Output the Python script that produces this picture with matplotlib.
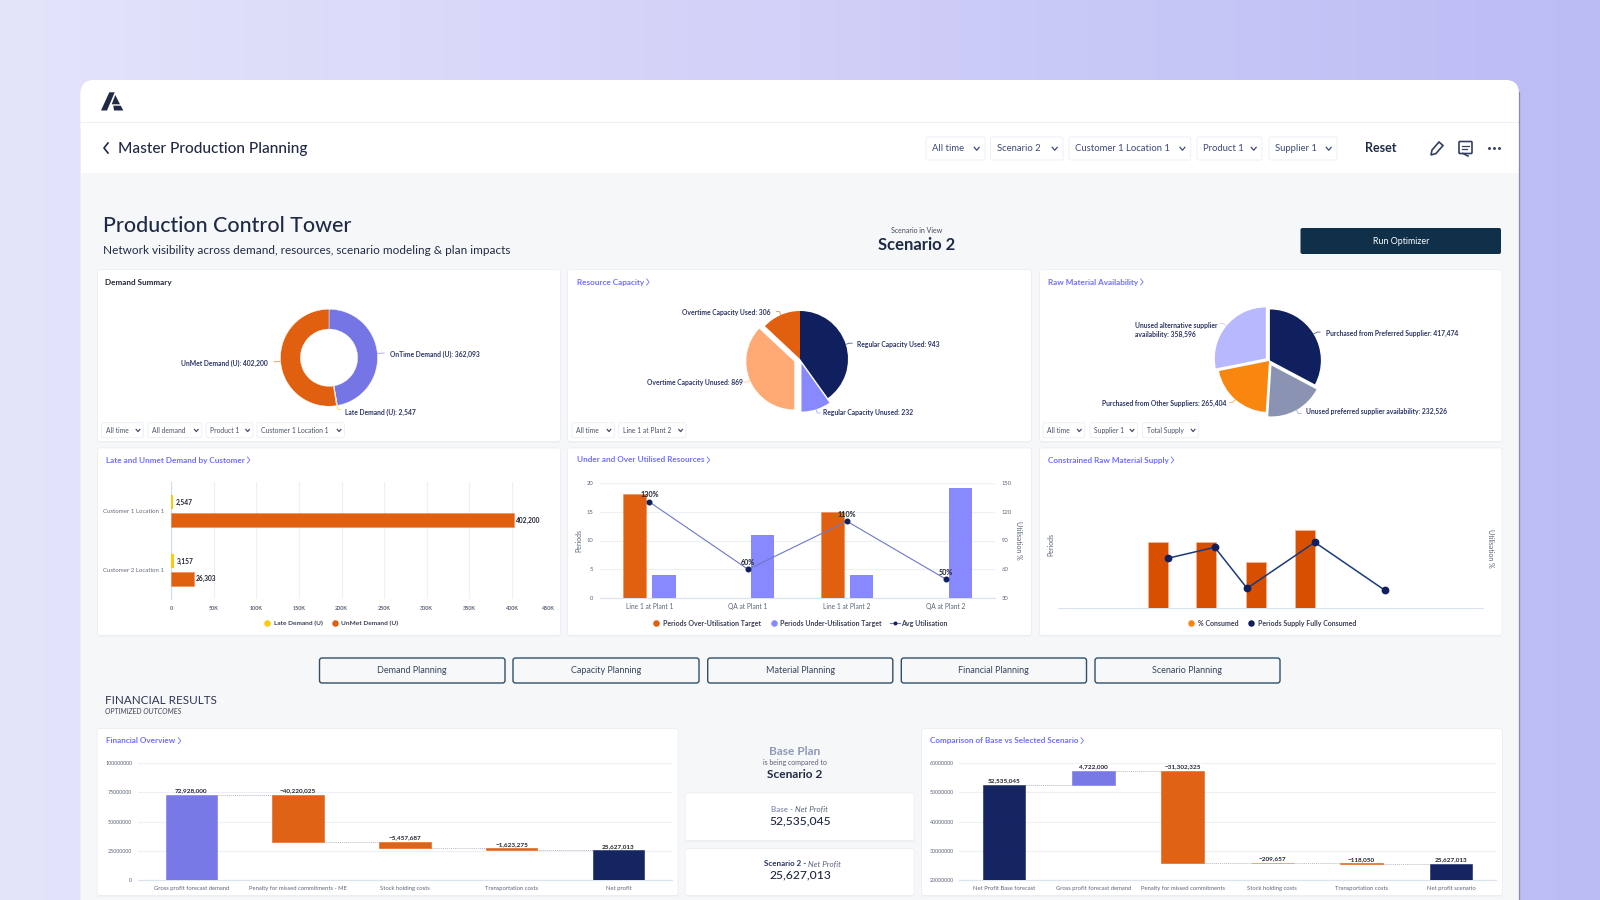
import numpy as np
import matplotlib
matplotlib.use("Agg")
import matplotlib.pyplot as plt
from matplotlib.patches import FancyBboxPatch, Polygon, Rectangle

plt.rcParams["font.family"] = ["Lato", "DejaVu Sans"]

W, H = 1600, 900

# -----------------------------
# Data
# -----------------------------
demand_labels = ["OnTime Demand (U)", "Late Demand (U)", "UnMet Demand (U)"]
demand_values = [362093, 2547, 402200]

capacity_labels = ["Regular Capacity Used", "Regular Capacity Unused",
                   "Overtime Capacity Unused", "Overtime Capacity Used"]
capacity_values = [943, 232, 869, 306]

material_labels = ["Purchased from Preferred Supplier", "Unused preferred supplier availability",
                   "Purchased from Other Suppliers", "Unused alternative supplier\navailability"]
material_values = [417474, 232526, 265404, 358596]

customers = ["Customer 1 Location 1", "Customer 2 Location 1"]
late_demand = [2547, 3157]
unmet_demand = [402200, 26303]
demand_ticks = [0, 50000, 100000, 150000, 200000, 250000, 300000, 350000, 400000, 450000]
demand_tick_labels = ["0", "50K", "100K", "150K", "200K", "250K", "300K", "350K", "400K", "450K"]

resources = ["Line 1 at Plant 1", "QA at Plant 1", "Line 1 at Plant 2", "QA at Plant 2"]
periods_over = [18, 0, 15, 0]
periods_under = [4, 11, 4, 19]
avg_utilisation = [130, 60, 110, 50]

supply_bar_x = [0, 0.98, 2, 3]
supply_bar_periods = [4, 4, 2.8, 4.7]
supply_line_x = [0.2, 1.16, 1.82, 3.2, 4.63]
supply_line_pct = [50, 61, 20, 66, 18]

overview_labels = ["Gross profit forecast demand", "Penalty for missed commitments - ME",
                   "Stock holding costs", "Transportation costs", "Net profit"]
overview_values = [72928000, -40220025, -5457687, -1623275, 25627013]
overview_ticks = [0, 25000000, 50000000, 75000000, 100000000]

compare_labels = ["Net Profit Base forecast", "Gross profit forecast demand",
                  "Penalty for missed commitments", "Stock holding costs",
                  "Transportation costs", "Net profit scenario"]
compare_values = [52535045, 4722000, -31302325, -209657, -118050, 25627013]
compare_ticks = [20000000, 30000000, 40000000, 50000000, 60000000]

# -----------------------------
# Colours
# -----------------------------
NAVY = "#10205f"
ORANGE = "#e06010"
DEEP_ORANGE = "#d84f00"
PERIWINKLE = "#7575e6"
LIGHT_BLUE = "#8888ff"
YELLOW = "#ffc90a"
INK = "#1f2a44"
LABEL = "#2c3566"
LINK = "#6f6fff"
GRID = "#eef0f5"
AXIS = "#dbe3f0"
TICK = "#5b6478"

fig = plt.figure(figsize=(16, 9), dpi=100)

# full figure axes in pixel coordinates for the page furniture
page = fig.add_axes([0, 0, 1, 1], zorder=0)
page.set_xlim(0, W)
page.set_ylim(H, 0)
page.axis("off")


def chart_axes(x0, y0, x1, y1):
    ax = fig.add_axes([x0 / W, 1 - y1 / H, (x1 - x0) / W, (y1 - y0) / H], zorder=2)
    ax.patch.set_alpha(0)
    return ax


def box(x0, y0, x1, y1, face="white", edge="none", lw=0.8, rad=2, z=1):
    p = FancyBboxPatch((x0, y0), x1 - x0, y1 - y0, boxstyle=f"round,pad=0,rounding_size={rad}",
                       fc=face, ec=edge, lw=lw, zorder=z)
    page.add_patch(p)


def chevron(x, y, size=2.2, color=LABEL):
    page.plot([x - size, x, x + size], [y - size * 0.6, y + size * 0.6, y - size * 0.6],
              color=color, lw=0.9, zorder=6)


def filter_box(x0, x1, y0, y1, label, size, color=LABEL):
    box(x0, y0, x1, y1, edge="#eef0f7", lw=0.7, z=3)
    page.text(x0 + (y1 - y0) * 0.28, (y0 + y1) / 2, label, fontsize=size, color=color,
              va="center", ha="left", zorder=6)
    chevron(x1 - (y1 - y0) * 0.36, (y0 + y1) / 2 + 0.3, size=(y1 - y0) * 0.08 + 0.6, color=color)


def card(x0, y0, x1, y1, title=None, tx=None, ty=None, color=LINK):
    box(x0 - 0.8, y0 - 0.8, x1 + 0.8, y1 + 1.5, face="#eceef3", rad=3, z=1)
    box(x0, y0, x1, y1, z=2)
    if title:
        t = page.text(tx, ty, title, fontsize=5.85, fontweight="bold", color=color,
                      va="center", zorder=6)
        if color == LINK:
            # the arrow sits just after the title text
            end = t.get_window_extent(fig.canvas.get_renderer()).x1
            page.plot([end + 2.5, end + 5, end + 2.5], [ty - 3, ty, ty + 3], color=color, lw=0.6, zorder=6)


def legend_dot(x, y, color):
    page.scatter([x], [y], s=22, color=color, lw=0, zorder=6)


def legend_text(x, y, label, size=5.0):
    page.text(x, y, label, fontsize=size, fontweight="bold", color="#3a3f55", va="center", zorder=6)


def pie_axes(cx, cy, r):
    side = 1.4 * r
    ax = chart_axes(cx - side, cy - side, cx + side, cy + side)
    return ax


def leaders(ax, wedges, colors):
    for w, c in zip(wedges, colors):
        a = np.deg2rad((w.theta1 + w.theta2) / 2)
        cx, cy = w.center
        r = w.r
        xs = [cx + r * 1.01 * np.cos(a), cx + r * 1.08 * np.cos(a),
              cx + r * 1.08 * np.cos(a) + 0.06 * np.sign(np.cos(a))]
        ys = [cy + r * 1.01 * np.sin(a), cy + r * 1.08 * np.sin(a), cy + r * 1.08 * np.sin(a)]
        ax.plot(xs, ys, color=c, lw=0.6, clip_on=False, alpha=0.7)


def pie_label(x, y, label, ha="left"):
    page.text(x, y, label, fontsize=4.85, fontweight="bold", color=LABEL, ha=ha, va="center",
              linespacing=1.25, zorder=6)


def waterfall(ax, labels, values, colors, tick_size=4.2):
    xs = np.arange(len(values))
    level = 0
    for i, (v, c) in enumerate(zip(values, colors)):
        last = i == len(values) - 1
        bottom = 0 if (i == 0 or last) else (level if v > 0 else level + v)
        height = abs(v)
        ax.bar(xs[i], height, width=0.48, bottom=bottom, color=c, edgecolor=c, lw=0.4, alpha=0.98, zorder=3)
        top = bottom + height
        ax.annotate(f"{v:,}".replace("-", "\u2212"), (xs[i], top), xytext=(0, 1), textcoords="offset points",
                    ha="center", va="bottom", fontsize=4.6, fontweight="bold", color="#20242e", zorder=5)
        level = v if i == 0 else level + v
        if not last:
            ax.plot([xs[i] + 0.24, xs[i + 1] - 0.24], [level, level], color="#b8bcc6",
                    lw=0.7, ls=(0, (1, 1)), zorder=2)
    ax.set_xlim(-0.5, len(values) - 0.5)
    ax.set_xticks(xs)
    ax.set_xticklabels(labels, fontsize=tick_size, color=TICK)
    ax.tick_params(length=0, pad=4)
    ax.grid(axis="y", color=GRID, lw=0.9)
    ax.set_axisbelow(True)
    for s in ["top", "left", "right"]:
        ax.spines[s].set_visible(False)
    ax.spines["bottom"].set_color(AXIS)


# -----------------------------
# Page background and window
# -----------------------------
grad = np.linspace(0, 1, 256)[None, :, None]
c0 = np.array([228, 228, 251]) / 255
c1 = np.array([188, 188, 245]) / 255
page.imshow(c0 + (c1 - c0) * grad, extent=(0, W, H, 0), aspect="auto", zorder=0)

page.add_patch(FancyBboxPatch((80.5, 80), 1438.5, 840, boxstyle="round,pad=0,rounding_size=14",
                              fc="#f6f7f9", ec="none", zorder=0.5))
page.add_patch(FancyBboxPatch((80.5, 80), 1438.5, 60, boxstyle="round,pad=0,rounding_size=14",
                              fc="white", ec="none", zorder=0.6))
page.add_patch(Rectangle((80.5, 110), 1438.5, 63, fc="white", ec="none", zorder=0.6))
page.plot([81, 1518], [122, 122], color="#eef0f4", lw=0.8, zorder=0.7)
page.plot([1519.2, 1519.2], [92, 900], color="#8b8ba0", lw=0.9, zorder=0.8)

# header
page.add_patch(Polygon([(101, 110.5), (109.3, 92.3), (114.7, 92.3), (107, 110.5)], fc=INK, ec="none", zorder=3))
page.add_patch(Polygon([(115.3, 95), (111.7, 104.3), (120, 104.3)], fc=INK, ec="none", zorder=3))
page.add_patch(Polygon([(113.3, 105.7), (120.7, 105.7), (123.3, 110.5), (114, 110.5)], fc=INK, ec="none", zorder=3))
page.plot([108, 104, 108], [143, 148, 153], color=INK, lw=1.2, zorder=3)
page.text(118, 149.3, "Master Production Planning", fontsize=11.05, fontweight="medium", color=INK,
          va="center", zorder=3)

top_filters = [(926, 985, "All time"), (990.5, 1063, "Scenario 2"), (1069, 1190.7, "Customer 1 Location 1"),
               (1197, 1262, "Product 1"), (1269, 1337, "Supplier 1")]
for x0, x1, name in top_filters:
    filter_box(x0, x1, 137, 160, name, 6.8, color="#3d4a78")

page.text(1381, 148.5, "Reset", fontsize=9, fontweight="bold", color=INK, ha="center", va="center", zorder=3)
page.add_patch(Polygon([(1431, 155), (1432, 150), (1439, 142), (1443, 145.5), (1436, 153.5)],
                       fc="none", ec="#33405f", lw=1.2, zorder=3))
box(1459, 141.5, 1472, 153.5, face="none", edge="#33405f", lw=1.2, rad=1, z=3)
page.plot([1463, 1468], [153.5, 156], color="#33405f", lw=1.2, zorder=3)
page.plot([1462, 1469], [145.5, 145.5], color="#33405f", lw=0.9, zorder=3)
page.plot([1462, 1467], [149, 149], color="#33405f", lw=0.9, zorder=3)
page.scatter([1489, 1494, 1499], [148, 148, 148], s=4.5, color="#33405f", lw=0, zorder=3)

page.text(103, 226, "Production Control Tower", fontsize=15.4, fontweight="medium", color=INK, va="center", zorder=3)
page.text(103, 250, "Network visibility across demand, resources, scenario modeling & plan impacts",
          fontsize=8.45, color=INK, va="center", zorder=3)
page.text(917, 230.5, "Scenario in View", fontsize=5, color="#444b5c", ha="center", va="center", zorder=3)
page.text(917, 245.5, "Scenario 2", fontsize=12, fontweight="bold", color=INK, ha="center", va="center", zorder=3)
box(1300.5, 228, 1501, 254, face="#0f3048", rad=2, z=3)
page.text(1401, 242, "Run Optimizer", fontsize=6.4, color="white", ha="center", va="center", zorder=4)

# cards
row1, row2 = (270, 441), (448.3, 635)
col1, col2, col3 = (98, 560), (568, 1031), (1040, 1501.6)
card(col1[0], row1[0], col1[1], row1[1], "Demand Summary", 105, 282, color="#222838")
card(col2[0], row1[0], col2[1], row1[1], "Resource Capacity", 577, 282)
card(col3[0], row1[0], col3[1], row1[1], "Raw Material Availability", 1048, 282)
card(col1[0], row2[0], col1[1], row2[1], "Late and Unmet Demand by Customer", 106, 460)
card(col2[0], row2[0], col2[1], row2[1], "Under and Over Utilised Resources", 577, 460)
card(col3[0], row2[0], col3[1], row2[1], "Constrained Raw Material Supply", 1048, 460)
card(97.5, 729, 677.7, 895, "Financial Overview", 106.5, 740.7)
card(922, 729, 1502, 895, "Comparison of Base vs Selected Scenario", 930, 740.7)

mini_filters = [(101.6, 143.4, "All time"), (148, 201.7, "All demand"), (206, 253, "Product 1"),
                (257, 344.5, "Customer 1 Location 1"),
                (572, 614.4, "All time"), (618.6, 686, "Line 1 at Plant 2"),
                (1043, 1084.7, "All time"), (1090, 1137.5, "Supplier 1"), (1142.5, 1198.5, "Total Supply")]
for x0, x1, name in mini_filters:
    filter_box(x0, x1, 422.7, 437.7, name, 4.9, color="#4a5068")

# -----------------------------
# Donut
# -----------------------------
ax = pie_axes(329, 357.7, 48.5)
demand_colors = [PERIWINKLE, YELLOW, ORANGE]
wedges, _ = ax.pie(demand_values, colors=demand_colors, startangle=90, counterclock=False, radius=1,
                   wedgeprops=dict(width=0.41, edgecolor="white", linewidth=0.3))
ax.set_xlim(-1.4, 1.4)
ax.set_ylim(-1.4, 1.4)
leaders(ax, wedges, demand_colors)
pie_label(390, 354.7, f"{demand_labels[0]}: {demand_values[0]:,}")
pie_label(345, 412.3, f"{demand_labels[1]}: {demand_values[1]:,}")
pie_label(268, 363.7, f"{demand_labels[2]}: {demand_values[2]:,}", ha="right")

# -----------------------------
# Resource capacity pie
# -----------------------------
ax = pie_axes(800, 359, 48)
capacity_colors = [NAVY, LIGHT_BLUE, "#ffaa75", ORANGE]
wedges, _ = ax.pie(capacity_values, colors=capacity_colors, startangle=90, counterclock=False, radius=1,
                   explode=[0.0, 0.1, 0.13, 0.0])
ax.set_xlim(-1.4, 1.4)
ax.set_ylim(-1.4, 1.4)
leaders(ax, wedges, capacity_colors)
pie_label(857, 345, f"{capacity_labels[0]}: {capacity_values[0]:,}")
pie_label(823, 412, f"{capacity_labels[1]}: {capacity_values[1]:,}")
pie_label(743, 382, f"{capacity_labels[2]}: {capacity_values[2]:,}", ha="right")
pie_label(770.5, 312, f"{capacity_labels[3]}: {capacity_values[3]:,}", ha="right")

# -----------------------------
# Raw material pie
# -----------------------------
ax = pie_axes(1269, 361, 51)
material_colors = [NAVY, "#8a94b2", "#f9860f", "#b8b8ff"]
wedges, _ = ax.pie(material_values, colors=material_colors, startangle=90, counterclock=False, radius=1,
                   explode=[0.02, 0.1, 0.0, 0.08])
ax.set_xlim(-1.4, 1.4)
ax.set_ylim(-1.4, 1.4)
leaders(ax, wedges, material_colors)
pie_label(1326, 333, f"{material_labels[0]}: {material_values[0]:,}")
pie_label(1305.5, 411.3, f"{material_labels[1]}: {material_values[1]:,}")
pie_label(1226, 403.7, f"{material_labels[2]}: {material_values[2]:,}", ha="right")
pie_label(1134.7, 330, f"{material_labels[3]}: {material_values[3]:,}")

# -----------------------------
# Late and unmet demand bars
# -----------------------------
ax = chart_axes(171.3, 482, 554.3, 599)
y = np.arange(len(customers))
ax.barh(y - 0.15, late_demand, height=0.24, color=YELLOW, zorder=3)
ax.barh(y + 0.15, unmet_demand, height=0.24, color=ORANGE, edgecolor="#f08a50", lw=0.4, zorder=3)
for yy, l, u in zip(y, late_demand, unmet_demand):
    ax.annotate(f"{l:,}", (l, yy - 0.15), xytext=(1.8, 0), textcoords="offset points", va="center",
                fontsize=4.8, fontweight="bold", color="#20242e")
    ax.annotate(f"{u:,}", (u, yy + 0.15), xytext=(1.8, 0), textcoords="offset points", va="center",
                fontsize=4.8, fontweight="bold", color="#20242e")
ax.set_xlim(0, 450000)
ax.set_ylim(1.5, -0.5)
ax.set_xticks(demand_ticks)
ax.set_xticklabels(demand_tick_labels, fontsize=3.9, color=TICK, fontweight="bold")
ax.get_xticklabels()[-1].set_ha("right")
ax.set_yticks(y)
ax.set_yticklabels(customers, fontsize=4.4, color="#666c7c")
ax.tick_params(length=0, pad=5)
ax.grid(axis="x", color=GRID, lw=0.9)
ax.set_axisbelow(True)
for s in ["top", "right", "bottom"]:
    ax.spines[s].set_visible(False)
ax.spines["left"].set_color("#cfdcee")
legend_dot(267, 623.3, YELLOW)
legend_text(274, 623.3, "Late Demand (U)", 4.65)
legend_dot(335, 623.3, ORANGE)
legend_text(341, 623.3, "UnMet Demand (U)", 4.65)

# -----------------------------
# Under and over utilised resources
# -----------------------------
ax = chart_axes(600, 482.7, 995, 598.3)
x = np.arange(len(resources))
ax.bar(x - 0.149, periods_over, width=0.236, color=ORANGE, edgecolor="#f08a50", lw=0.4, zorder=3)
ax.bar(x + 0.149, periods_under, width=0.236, color=LIGHT_BLUE, zorder=3)
ax.set_xlim(-0.5, 3.5)
ax.set_ylim(0, 20)
ax.set_yticks([0, 5, 10, 15, 20])
ax.set_xticks(x)
ax.set_xticklabels(resources, fontsize=4.8, color=TICK)
ax.tick_params(axis="y", labelsize=4.2, labelcolor=TICK, length=0, pad=5)
ax.tick_params(axis="x", length=0, pad=3.5)
ax.grid(axis="y", color=GRID, lw=0.9)
ax.set_axisbelow(True)
for s in ["top", "left", "right"]:
    ax.spines[s].set_visible(False)
ax.spines["bottom"].set_color(AXIS)
ax2 = ax.twinx()
ax2.patch.set_alpha(0)
ax2.plot(x, avg_utilisation, color="#6f78c8", lw=0.8, marker="o", ms=3.3, mfc=NAVY, mec=NAVY, zorder=5)
for xx, v in zip(x, avg_utilisation):
    ax2.annotate(f"{v}%", (xx, v), xytext=(0, 2.5), textcoords="offset points", ha="center", va="bottom",
                 fontsize=5.2, fontweight="bold", color="#20242e")
ax2.set_ylim(30, 150)
ax2.set_yticks([30, 60, 90, 120, 150])
ax2.tick_params(axis="y", labelsize=4.2, labelcolor=TICK, length=0, pad=5)
for s in ax2.spines.values():
    s.set_visible(False)
page.text(579, 540, "Periods", fontsize=5, color=TICK, rotation=90, ha="center", va="center", zorder=6)
page.text(1019, 540, "Utilisation %", fontsize=5, color=TICK, rotation=270, ha="center", va="center", zorder=6)
legend_dot(656, 623.3, ORANGE)
legend_text(662.7, 623.3, "Periods Over-Utilisation Target", 5.0)
legend_dot(773.7, 623.3, LIGHT_BLUE)
legend_text(780, 623.3, "Periods Under-Utilisation Target", 5.0)
page.plot([890, 900], [623.3, 623.3], color="#6f78c8", lw=0.8, zorder=6)
page.scatter([895], [623.3], s=8, color=NAVY, lw=0, zorder=7)
legend_text(901.3, 623.3, "Avg Utilisation", 5.0)

# -----------------------------
# Constrained raw material supply
# -----------------------------
ax = chart_axes(1058.3, 482.3, 1483, 608.3)
ax.bar(supply_bar_x, supply_bar_periods, width=0.41, color=DEEP_ORANGE, edgecolor="#f3b795", lw=0.5, zorder=3)
ax.set_xlim(-2.03, 6.63)
ax.set_ylim(0, 7.6)
ax.set_xticks([])
ax.set_yticks([])
for s in ["top", "left", "right"]:
    ax.spines[s].set_visible(False)
ax.spines["bottom"].set_color(AXIS)
ax2 = ax.twinx()
ax2.patch.set_alpha(0)
ax2.plot(supply_line_x, supply_line_pct, color="#1a3a7a", lw=1.1, marker="o", ms=4.6, mfc=NAVY, mec=NAVY, zorder=5)
ax2.set_ylim(0, 126)
ax2.set_yticks([])
for s in ax2.spines.values():
    s.set_visible(False)
page.text(1050.7, 545, "Periods", fontsize=5, color=TICK, rotation=90, ha="center", va="center", zorder=6)
page.text(1491, 548, "Utilisation %", fontsize=5, color=TICK, rotation=270, ha="center", va="center", zorder=6)
legend_dot(1191.3, 623.3, "#f9860f")
legend_text(1197.7, 623.3, "% Consumed", 5.0)
legend_dot(1251, 623.3, NAVY)
legend_text(1257.7, 623.3, "Periods Supply Fully Consumed", 5.0)

# -----------------------------
# Planning buttons
# -----------------------------
buttons = [(319.5, 505, "Demand Planning"), (513, 699, "Capacity Planning"), (707.7, 892.8, "Material Planning"),
           (901.3, 1086.5, "Financial Planning"), (1095, 1280, "Scenario Planning")]
for x0, x1, name in buttons:
    box(x0, 658, x1, 683, face="#f7f8fa", edge="#2f5068", lw=1.0, rad=2.5, z=3)
    page.text((x0 + x1) / 2, 670.5, name, fontsize=6.5, color="#37465e", ha="center", va="center", zorder=4)

page.text(105, 700.7, "FINANCIAL RESULTS", fontsize=8.35, color="#2b3550", va="center", zorder=3)
page.text(105, 711.5, "OPTIMIZED OUTCOMES", fontsize=5.2, color="#3d4558", style="italic", va="center", zorder=3)

# -----------------------------
# Financial waterfalls
# -----------------------------
ax = chart_axes(137.8, 762.7, 672, 880.3)
waterfall(ax, overview_labels, overview_values, [PERIWINKLE, ORANGE, ORANGE, ORANGE, NAVY])
ax.set_ylim(0, 100000000)
ax.set_yticks(overview_ticks)
ax.set_yticklabels([str(v) for v in overview_ticks], fontsize=3.9, color=TICK)

ax = chart_axes(959.3, 762.7, 1495.7, 880.3)
waterfall(ax, compare_labels, compare_values, [NAVY, PERIWINKLE, ORANGE, ORANGE, ORANGE, NAVY])
ax.set_ylim(20000000, 60000000)
ax.set_yticks(compare_ticks)
ax.set_yticklabels([str(v) for v in compare_ticks], fontsize=3.9, color=TICK)

# -----------------------------
# Scenario comparison panel
# -----------------------------
page.text(794.5, 751.7, "Base Plan", fontsize=8.6, fontweight="bold", color="#8f99b8", ha="center", va="center", zorder=3)
page.text(794.5, 762.7, "is being compared to", fontsize=5, color="#5a6378", ha="center", va="center", zorder=3)
page.text(794.5, 774, "Scenario 2", fontsize=8.6, fontweight="bold", color=INK, ha="center", va="center", zorder=3)
card(685.7, 793.3, 913.7, 840)
card(685.7, 849, 913.7, 895)
page.text(795, 809, "Base - ", fontsize=5.8, fontweight="bold", color="#8f99b8", ha="right", va="center", zorder=4)
page.text(795, 809, "Net Profit", fontsize=5.8, style="italic", color="#5a6378", ha="left", va="center", zorder=4)
page.text(800, 821, f"{compare_values[0]:,}", fontsize=8.7, fontweight="medium", color=INK,
          ha="center", va="center", zorder=4)
page.text(808, 863.7, "Scenario 2 - ", fontsize=5.8, fontweight="bold", color=LABEL, ha="right", va="center", zorder=4)
page.text(808, 863.7, "Net Profit", fontsize=5.8, style="italic", color="#5a6378", ha="left", va="center", zorder=4)
page.text(800, 875.3, f"{overview_values[-1]:,}", fontsize=8.7, fontweight="medium", color=INK,
          ha="center", va="center", zorder=4)

fig.savefig("out.png", dpi=100)
